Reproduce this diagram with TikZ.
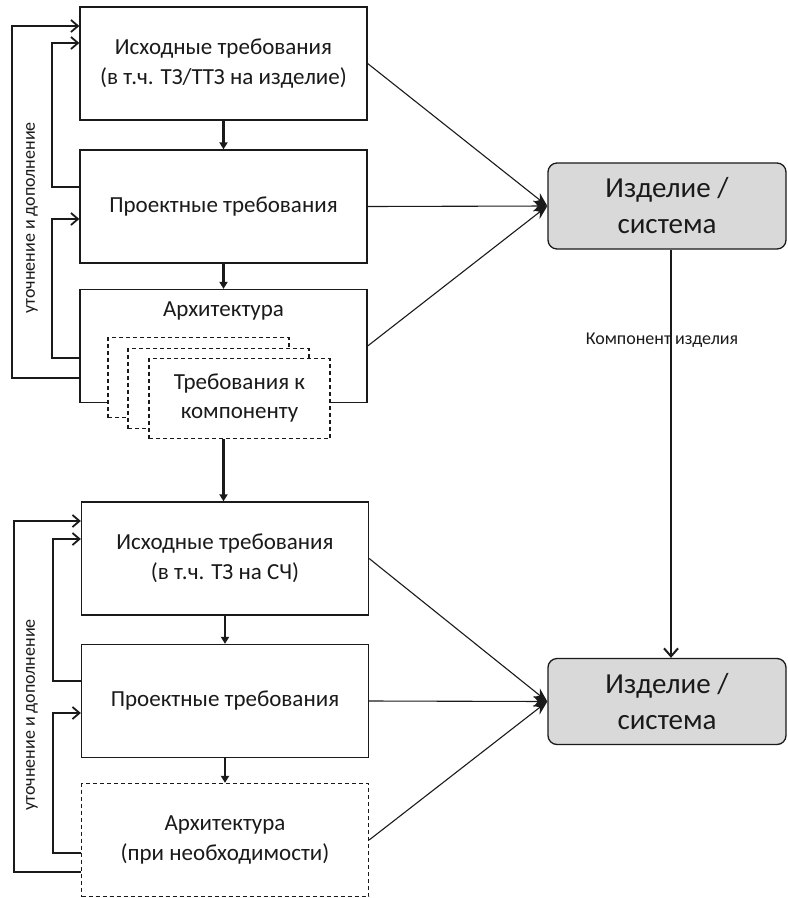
\documentclass[tikz,border=0pt]{standalone}
\usepackage{fontspec}
\setmainfont{Carlito}
\usetikzlibrary{arrows.meta}
\definecolor{sysgray}{HTML}{D9D9D9}
\definecolor{ink}{HTML}{1A1A1A}
\begin{document}
\begin{tikzpicture}[x=1pt,y=-1pt,
  every node/.style={text=ink},
  reqbox/.style={draw=ink, line width=1.3pt, fill=white, minimum width=287pt, minimum height=113pt, align=center, inner sep=0pt, font=\fontsize{23}{30}\selectfont},
  dashbox/.style={reqbox, dash pattern=on 4pt off 3pt},
  compbox/.style={draw=ink, line width=1.3pt, fill=white, dash pattern=on 4pt off 3pt, minimum width=181pt, minimum height=80pt, inner sep=0pt, align=center, font=\fontsize{23}{29}\selectfont},
  sysbox/.style={draw=ink, line width=1.3pt, fill=sysgray, rounded corners=9pt, minimum width=238pt, minimum height=86pt, align=center, inner sep=0pt, font=\fontsize{29}{36}\selectfont},
  downarrow/.style={draw=ink, line width=2.4pt, -{Triangle[length=7pt,width=8pt]}},
  fb/.style={draw=ink, line width=1.3pt, -{Straight Barb[length=7pt,width=12pt,line width=1.8pt]}},
  toSys/.style={draw=ink, line width=1.1pt, -{Stealth[length=14pt,width=11pt]}},
  small/.style={font=\fontsize{18}{21}\selectfont}
]
\useasboundingbox (0,0) rectangle (788,898);

% ---------- top group ----------
\node[reqbox] (r1) at (223.5,63.5) {Исходные требования\\(в т.ч. ТЗ/ТТЗ на изделие)};
\node[reqbox] (r2) at (223.5,206.5) {Проектные требования};
\node[reqbox] (r3) at (223.5,346) {};
\node at (223.5,311) [font=\fontsize{23}{30}\selectfont] (r3t) {Архитектура};
\node[compbox] (c1) at (198.5,377.5) {};
\node[compbox] (c2) at (218.5,388.5) {};
\node[compbox] (c3) at (239.5,398.5) {Требования к\\компоненту};

% ---------- bottom group ----------
\node[reqbox] (r4) at (225,558.5) {Исходные требования\\(в т.ч. ТЗ на СЧ)};
\node[reqbox] (r5) at (225,701) {Проектные требования};
\node[dashbox] (r6) at (225,840) {Архитектура\\(при необходимости)};

\draw[downarrow] (r1.south) -- (r2.north);
\draw[downarrow] (r2.south) -- (r3.north);
\draw[downarrow] (c3.south -| r3.south) -- (r4.north -| r3.south);
\draw[downarrow] (r4.south) -- (r5.north);
\draw[downarrow] (r5.south) -- (r6.north);

% feedback loops top
\draw[fb] (r3.west |- 0,378) -| (12,26) -- (r1.west |- 0,26);
\draw[fb] (r2.west |- 0,187) -| (52,43) -- (r1.west |- 0,43);
\draw[fb] (r3.west |- 0,358) -| (52,219) -- (r2.west |- 0,219);
\node[small, rotate=90] (lab1) at (32,218) {уточнение и дополнение};

% feedback loops bottom
\draw[fb] (r6.west |- 0,872) -| (14,521) -- (r4.west |- 0,521);
\draw[fb] (r5.west |- 0,681) -| (53,539) -- (r4.west |- 0,539);
\draw[fb] (r6.west |- 0,853) -| (53,713) -- (r5.west |- 0,713);
\node[small, rotate=90] (lab2) at (32,715) {уточнение и дополнение};

% ---------- systems ----------
\node[sysbox] (s1) at (667,206) {Изделие /\\система};
\node[sysbox] (s2) at (667,701.5) {Изделие /\\система};

\draw[toSys] (r1.east) -- (s1.west);
\draw[toSys] (r2.east) -- (s1.west);
\draw[toSys] (r3.east) -- (s1.west);
\draw[toSys] (r4.east) -- (s2.west);
\draw[toSys] (r5.east) -- (s2.west);
\draw[toSys] (r6.east) -- (s2.west);

\draw[draw=ink, line width=2.4pt, -{Straight Barb[length=8pt,width=14pt,line width=2pt]}] ([xshift=4pt]s1.south) -- ([xshift=4pt]s2.north);
\node[small] (comp) at (662,340) {Компонент изделия};
\end{tikzpicture}
\end{document}
